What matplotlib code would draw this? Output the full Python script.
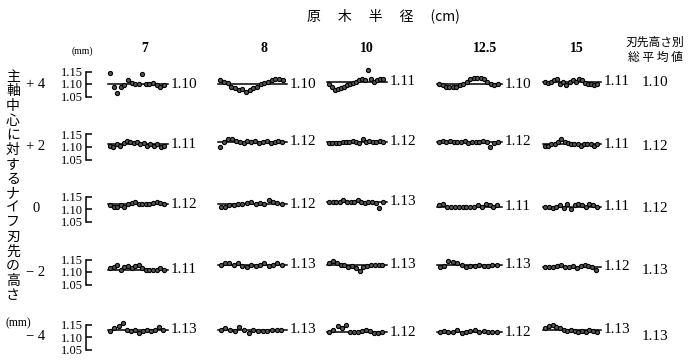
import matplotlib
matplotlib.use("Agg")
import matplotlib.pyplot as plt
import numpy as np

# ---------------- data ----------------
diameters = ["7", "8", "10", "12.5", "15"]          # 原木半径 (cm)
heights = ["+ 4", "+ 2", "0", "− 2", "− 4"]          # 刃先高さ (mm)
yticks = [1.05, 1.10, 1.15]
ytick_labels = ["1.05", "1.10", "1.15"]

means = [
    [1.10, 1.10, 1.11, 1.10, 1.11],
    [1.11, 1.12, 1.12, 1.12, 1.11],
    [1.12, 1.12, 1.13, 1.11, 1.11],
    [1.11, 1.13, 1.13, 1.13, 1.12],
    [1.13, 1.13, 1.12, 1.12, 1.13],
]
overall = [1.10, 1.12, 1.12, 1.13, 1.13]

row_p4 = [
    [1.145, 1.09, 1.065, 1.09, 1.095, 1.115, 1.105, 1.10, 1.10, 1.14, 1.10, 1.10, 1.105, 1.095, 1.09, 1.095],
    [1.115, 1.11, 1.105, 1.09, 1.085, 1.075, 1.08, 1.07, 1.075, 1.085, 1.09, 1.10, 1.105, 1.11, 1.115, 1.12, 1.12, 1.115],
    [1.10, 1.09, 1.075, 1.08, 1.085, 1.09, 1.095, 1.10, 1.105, 1.11, 1.115, 1.12, 1.115, 1.155, 1.12, 1.11, 1.115, 1.12, 1.12],
    [1.10, 1.095, 1.09, 1.09, 1.09, 1.09, 1.095, 1.10, 1.11, 1.12, 1.125, 1.125, 1.125, 1.12, 1.11, 1.10, 1.095, 1.10],
    [1.11, 1.105, 1.11, 1.115, 1.12, 1.10, 1.11, 1.095, 1.11, 1.115, 1.11, 1.12, 1.115, 1.105, 1.10, 1.10, 1.095, 1.10],
]
row_p2 = [
    [1.105, 1.10, 1.11, 1.105, 1.115, 1.125, 1.12, 1.115, 1.12, 1.11, 1.115, 1.105, 1.11, 1.105, 1.11, 1.10, 1.105],
    [1.10, 1.12, 1.13, 1.13, 1.125, 1.12, 1.115, 1.125, 1.12, 1.125, 1.115, 1.12, 1.125, 1.115, 1.12, 1.125, 1.12],
    [1.115, 1.115, 1.115, 1.115, 1.12, 1.12, 1.12, 1.125, 1.12, 1.115, 1.13, 1.12, 1.125, 1.12, 1.12, 1.125, 1.12],
    [1.12, 1.125, 1.12, 1.125, 1.12, 1.12, 1.12, 1.125, 1.115, 1.12, 1.12, 1.12, 1.125, 1.12, 1.10, 1.115, 1.12],
    [1.105, 1.105, 1.11, 1.11, 1.12, 1.13, 1.12, 1.115, 1.11, 1.11, 1.11, 1.105, 1.11, 1.11, 1.11, 1.105, 1.11],
]
row_0 = [
    [1.115, 1.11, 1.11, 1.115, 1.11, 1.12, 1.125, 1.13, 1.12, 1.12, 1.12, 1.12, 1.125, 1.13, 1.125, 1.12],
    [1.11, 1.11, 1.115, 1.115, 1.12, 1.12, 1.125, 1.13, 1.12, 1.125, 1.12, 1.135, 1.13, 1.125, 1.12],
    [1.13, 1.13, 1.13, 1.13, 1.135, 1.13, 1.13, 1.13, 1.135, 1.13, 1.125, 1.13, 1.13, 1.125, 1.105, 1.13],
    [1.115, 1.12, 1.11, 1.11, 1.11, 1.11, 1.11, 1.11, 1.11, 1.11, 1.115, 1.11, 1.12, 1.115, 1.11, 1.115],
    [1.11, 1.11, 1.105, 1.11, 1.115, 1.105, 1.12, 1.10, 1.115, 1.12, 1.115, 1.11, 1.12, 1.115, 1.11],
]
row_m2 = [
    [1.115, 1.12, 1.13, 1.11, 1.12, 1.125, 1.115, 1.125, 1.13, 1.115, 1.11, 1.11, 1.11, 1.11, 1.115, 1.11],
    [1.13, 1.135, 1.135, 1.13, 1.135, 1.125, 1.12, 1.13, 1.125, 1.13, 1.135, 1.125, 1.13, 1.135, 1.13],
    [1.135, 1.145, 1.135, 1.13, 1.13, 1.12, 1.125, 1.115, 1.105, 1.12, 1.125, 1.13, 1.13, 1.13, 1.13],
    [1.12, 1.125, 1.145, 1.14, 1.135, 1.13, 1.12, 1.125, 1.125, 1.13, 1.125, 1.125, 1.13, 1.13],
    [1.12, 1.12, 1.12, 1.125, 1.13, 1.12, 1.12, 1.125, 1.115, 1.125, 1.13, 1.125, 1.12, 1.11],
]
row_m4 = [
    [1.125, 1.135, 1.145, 1.155, 1.13, 1.125, 1.13, 1.115, 1.125, 1.13, 1.125, 1.13, 1.14, 1.13],
    [1.13, 1.135, 1.13, 1.125, 1.14, 1.13, 1.115, 1.13, 1.125, 1.125, 1.125, 1.13, 1.13, 1.13],
    [1.12, 1.13, 1.145, 1.135, 1.15, 1.12, 1.12, 1.12, 1.125, 1.13, 1.125, 1.115, 1.115, 1.12],
    [1.12, 1.125, 1.12, 1.12, 1.13, 1.115, 1.12, 1.125, 1.13, 1.12, 1.125, 1.12, 1.12, 1.12],
    [1.135, 1.145, 1.15, 1.14, 1.135, 1.13, 1.125, 1.13, 1.125, 1.12, 1.125, 1.12, 1.13, 1.125, 1.12],
]
rows = [row_p4, row_p2, row_0, row_m2, row_m4]

# ---------------- layout ----------------
W, H = 698, 363
fig = plt.figure(figsize=(W / 100, H / 100), dpi=100)
fig.patch.set_facecolor("white")

SERIF = ["Liberation Serif", "DejaVu Serif"]
CJK = ["Noto Sans CJK JP", "DejaVu Sans"]

col_px = [(108, 168), (218, 287), (327, 387), (437, 502), (543, 601)]
row_center = [84, 147, 209, 272, 337]
AX_H = 25
BRACKET_X = 86  # px

def fx(x):
    return x / W

def fy(y):
    return 1 - y / H

for r, row in enumerate(rows):
    yc = row_center[r]
    # scale bracket (shared y scale of the row)
    bax = fig.add_axes([fx(BRACKET_X), fy(yc + AX_H / 2), 5 / W, AX_H / H])
    bax.set_ylim(1.05, 1.15)
    bax.set_xlim(0, 1)
    bax.patch.set_alpha(0)
    for s in ("top", "right", "bottom"):
        bax.spines[s].set_visible(False)
    bax.spines["left"].set_linewidth(1.1)
    bax.spines["left"].set_color("black")
    bax.set_xticks([])
    bax.set_yticks(yticks)
    bax.set_yticklabels(ytick_labels, family=SERIF, fontsize=9)
    bax.tick_params(axis="y", direction="in", length=4, width=1.1, pad=2)
    bax.text(-50 / 5, 1.10, heights[r], transform=bax.get_yaxis_transform(),
             ha="center", va="center", fontsize=10.5, family=SERIF)

    for c, vals in enumerate(row):
        x0, x1 = col_px[c]
        ax = fig.add_axes([fx(x0), fy(yc + AX_H / 2), (x1 - x0) / W, AX_H / H])
        ax.set_ylim(1.05, 1.15)
        n = len(vals)
        ax.set_xlim(-0.6, n + 0.2)
        ax.patch.set_alpha(0)
        m = means[r][c]
        ax.plot([-0.6, n + 0.2], [m, m], color="black", lw=1.1, clip_on=False, zorder=1)
        ax.plot(np.arange(n), vals, "o", ms=3.0, mfc="#555555", mec="black",
                mew=0.8, clip_on=False, zorder=2)
        ax.annotate("%.2f" % m, xy=(1.0, m), xycoords=ax.get_yaxis_transform(),
                    xytext=(2, 0), textcoords="offset points",
                    ha="left", va="center", fontsize=11, family=SERIF)
        ax.set_xticks([])
        ax.set_yticks([])
        for s in ("top", "right", "bottom", "left"):
            ax.spines[s].set_visible(False)
    fig.text(fx(655), fy(yc - 1), "%.2f" % overall[r], ha="center", va="center",
             fontsize=11, family=SERIF)

# column headers
col_hdr_x = [145, 264, 367, 485, 577]
for x, d in zip(col_hdr_x, diameters):
    fig.text(fx(x), fy(48), d, ha="center", va="center", fontsize=10,
             family=SERIF, fontweight="bold")
fig.text(fx(655), fy(42), "刃先高さ別", ha="center", va="center", fontsize=8.5, family=CJK)
fig.text(fx(655), fy(57), "総 平 均 値", ha="center", va="center", fontsize=8.5, family=CJK)
fig.text(fx(82), fy(51), "(mm)", ha="center", va="center", fontsize=7, family=SERIF)

# title
fig.text(fx(383), fy(16), "原　 木　 半　 径　 (cm)", ha="center", va="center",
         fontsize=10, family=CJK)

# vertical label
vlabel = "主軸中心に対するナイフ刃先の高さ"
fig.text(fx(13), fy(186), "\n".join(vlabel), ha="center", va="center",
         fontsize=10, family=CJK, linespacing=1.05)
fig.text(fx(18), fy(323), "(mm)", ha="center", va="center", fontsize=8.5, family=SERIF)

fig.savefig("out.png", dpi=100, facecolor="white")
